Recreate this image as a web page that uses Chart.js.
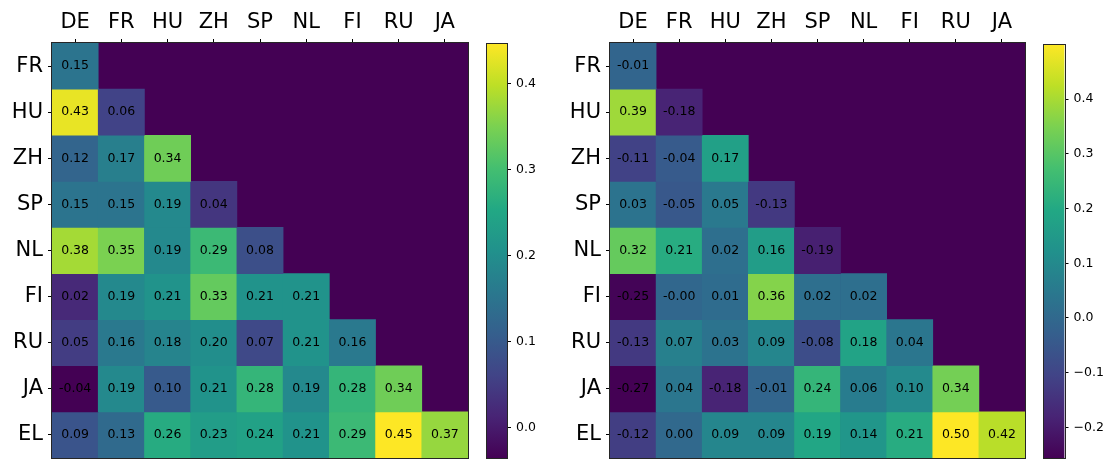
<!DOCTYPE html>
<html>
<head>
<meta charset="utf-8">
<script src="https://cdn.jsdelivr.net/npm/chart.js@4/dist/chart.umd.min.js"></script>
<style>
  html, body { margin: 0; padding: 0; background: #fff; }
  #lienzo { position: relative; width: 1114px; height: 459px; overflow: hidden; }
  canvas { position: absolute; top: 0; }
</style>
</head>
<body>
<div id="lienzo">
  <canvas id="mapaIzq" width="480" height="459" style="left:0px"></canvas>
  <canvas id="barraIzq" width="80" height="459" style="left:480px"></canvas>
  <canvas id="mapaDer" width="480" height="459" style="left:560px"></canvas>
  <canvas id="barraDer" width="74" height="459" style="left:1040px"></canvas>
</div>
<script>
// Datos: filas y columnas del triángulo inferior
const filas = ["FR", "HU", "ZH", "SP", "NL", "FI", "RU", "JA", "EL"];
const columnas = ["DE", "FR", "HU", "ZH", "SP", "NL", "FI", "RU", "JA"];

// Mapa izquierdo
const valoresIzq = [
  [0.15],
  [0.43, 0.06],
  [0.12, 0.17, 0.34],
  [0.15, 0.15, 0.19, 0.04],
  [0.38, 0.35, 0.19, 0.29, 0.08],
  [0.02, 0.19, 0.21, 0.33, 0.21, 0.21],
  [0.05, 0.16, 0.18, 0.20, 0.07, 0.21, 0.16],
  [-0.04, 0.19, 0.10, 0.21, 0.28, 0.19, 0.28, 0.34],
  [0.09, 0.13, 0.26, 0.23, 0.24, 0.21, 0.29, 0.45, 0.37],
];

// Mapa derecho
const valoresDer = [
  [-0.01],
  [0.39, -0.18],
  [-0.11, -0.04, 0.17],
  [0.03, -0.05, 0.05, -0.13],
  [0.32, 0.21, 0.02, 0.16, -0.19],
  [-0.25, -0.004, 0.01, 0.36, 0.02, 0.02],
  [-0.13, 0.07, 0.03, 0.09, -0.08, 0.18, 0.04],
  [-0.27, 0.04, -0.18, -0.01, 0.24, 0.06, 0.10, 0.34],
  [-0.12, 0.00, 0.09, 0.09, 0.19, 0.14, 0.21, 0.50, 0.42],
];

// Escalas de color y marcas de las barras
const rangoIzq = [-0.035, 0.446];
const rangoDer = [-0.256, 0.5];
const marcasIzq = [0.0, 0.1, 0.2, 0.3, 0.4];
const marcasDer = [-0.2, -0.1, 0.0, 0.1, 0.2, 0.3, 0.4];

Chart.defaults.font.family = "'DejaVu Sans', sans-serif";
Chart.defaults.color = "#000";

// Paleta viridis
const viridis = ["#440154", "#482475", "#414487", "#355f8d", "#2a788e", "#21918c",
  "#22a884", "#44bf70", "#7ad151", "#bddf26", "#fde725"];

const hexARgb = (h) => [1, 3, 5].map((i) => parseInt(h.slice(i, i + 2), 16));

const colorViridis = (t) => {
  t = Math.min(1, Math.max(0, t));
  const pos = t * (viridis.length - 1);
  const i = Math.min(Math.floor(pos), viridis.length - 2);
  const f = pos - i;
  const a = hexARgb(viridis[i]);
  const b = hexARgb(viridis[i + 1]);
  const c = a.map((v, k) => Math.round(v + (b[k] - v) * f));
  return `rgb(${c.join(",")})`;
};

// Marco alrededor del área del gráfico
const pluginMarco = {
  id: "marco",
  afterDraw(chart) {
    const { ctx, chartArea: a } = chart;
    const x0 = Math.round(a.left) - 0.5, y0 = Math.round(a.top) - 0.5;
    const x1 = Math.round(a.right) + 0.5, y1 = Math.round(a.bottom) + 0.5;
    ctx.save();
    ctx.strokeStyle = "#262626";
    ctx.lineWidth = 1;
    ctx.strokeRect(x0, y0, x1 - x0, y1 - y0);
    ctx.restore();
  },
};

// Fondo del triángulo vacío y números de cada celda
const pluginMapa = {
  id: "mapa",
  beforeDatasetsDraw(chart) {
    const { ctx, chartArea: a } = chart;
    ctx.save();
    ctx.fillStyle = viridis[0];
    ctx.fillRect(a.left, a.top, a.right - a.left, a.bottom - a.top);
    ctx.restore();
  },
  afterDatasetsDraw(chart) {
    const { ctx } = chart;
    ctx.save();
    ctx.font = "12.5px 'DejaVu Sans'";
    ctx.fillStyle = "#000";
    ctx.textAlign = "center";
    ctx.textBaseline = "middle";
    chart.data.datasets.forEach((ds, i) => {
      chart.getDatasetMeta(i).data.forEach((barra, j) => {
        ctx.fillText(ds.valores[j].toFixed(2), barra.x, (barra.y + barra.base) / 2);
      });
    });
    ctx.restore();
  },
};

function crearMapa(id, valores, rango, geo) {
  const [vmin, vmax] = rango;
  return new Chart(document.getElementById(id), {
    type: "bar",
    data: {
      labels: columnas,
      datasets: valores.map((fila, r) => ({
        data: fila.map(() => [r - 0.5, r + 0.5]),
        valores: fila,
        backgroundColor: fila.map((v) => colorViridis((v - vmin) / (vmax - vmin))),
        grouped: false,
        categoryPercentage: 1,
        barPercentage: 1,
        borderWidth: 0,
      })),
    },
    options: {
      responsive: false,
      animation: false,
      events: [],
      layout: { padding: { left: 0, top: 0, right: geo.derecha, bottom: geo.abajo } },
      plugins: { legend: { display: false }, tooltip: { enabled: false } },
      scales: {
        x: {
          position: "top",
          grid: { drawOnChartArea: false, offset: false, tickLength: 4, color: "#000" },
          border: { display: false },
          ticks: { font: { size: 21 }, padding: 4, maxRotation: 0, autoSkip: false },
          afterFit: (s) => { s.height = geo.arriba; s.paddingLeft = 0; s.paddingRight = 0; },
        },
        y: {
          reverse: true,
          min: -0.5,
          max: filas.length - 0.5,
          grid: { drawOnChartArea: false, tickLength: 4, color: "#000" },
          border: { display: false },
          ticks: { font: { size: 21 }, padding: 5, autoSkip: false, callback: (v) => filas[v] },
          afterBuildTicks: (s) => { s.ticks = filas.map((_, i) => ({ value: i })); },
          afterFit: (s) => { s.width = geo.izquierda; s.paddingTop = 0; s.paddingBottom = 0; },
        },
      },
    },
    plugins: [pluginMapa, pluginMarco],
  });
}

function crearBarra(id, rango, marcas, formato, geo) {
  const [vmin, vmax] = rango;
  return new Chart(document.getElementById(id), {
    type: "bar",
    data: {
      labels: [""],
      datasets: [{
        data: [[vmin, vmax]],
        categoryPercentage: 1,
        barPercentage: 1,
        borderWidth: 0,
        backgroundColor: (c) => {
          const ch = c.chart;
          if (!ch.chartArea || !ch.scales.y) return viridis[0];
          const y = ch.scales.y;
          const g = ch.ctx.createLinearGradient(0, y.getPixelForValue(vmin), 0, y.getPixelForValue(vmax));
          viridis.forEach((col, i) => g.addColorStop(i / (viridis.length - 1), col));
          return g;
        },
      }],
    },
    options: {
      responsive: false,
      animation: false,
      events: [],
      layout: { padding: { left: geo.izquierda, top: geo.arriba, right: 0, bottom: geo.abajo } },
      plugins: { legend: { display: false }, tooltip: { enabled: false } },
      scales: {
        x: { display: false },
        y: {
          position: "right",
          min: vmin,
          max: vmax,
          grid: { drawOnChartArea: false, tickLength: 4, color: "#000" },
          border: { display: false },
          ticks: { font: { size: 12.5 }, padding: 5, autoSkip: false, callback: formato },
          afterBuildTicks: (s) => { s.ticks = marcas.map((v) => ({ value: v })); },
          afterFit: (s) => { s.width = geo.ancho; s.paddingTop = 0; s.paddingBottom = 0; },
        },
      },
    },
    plugins: [pluginMarco],
  });
}

const formatoIzq = (v) => v.toFixed(1);
const formatoDer = (v) => (v < 0 ? "\u2212" : "") + Math.abs(v).toFixed(1);

crearMapa("mapaIzq", valoresIzq, rangoIzq, { izquierda: 52, arriba: 43, derecha: 12, abajo: 1 });
crearMapa("mapaDer", valoresDer, rangoDer, { izquierda: 50, arriba: 43, derecha: 15, abajo: 1 });
crearBarra("barraIzq", rangoIzq, marcasIzq, formatoIzq, { izquierda: 7, arriba: 44, abajo: 1, ancho: 53 });
crearBarra("barraDer", rangoDer, marcasDer, formatoDer, { izquierda: 3.5, arriba: 44.5, abajo: 1, ancho: 49.5 });
</script>
</body>
</html>
